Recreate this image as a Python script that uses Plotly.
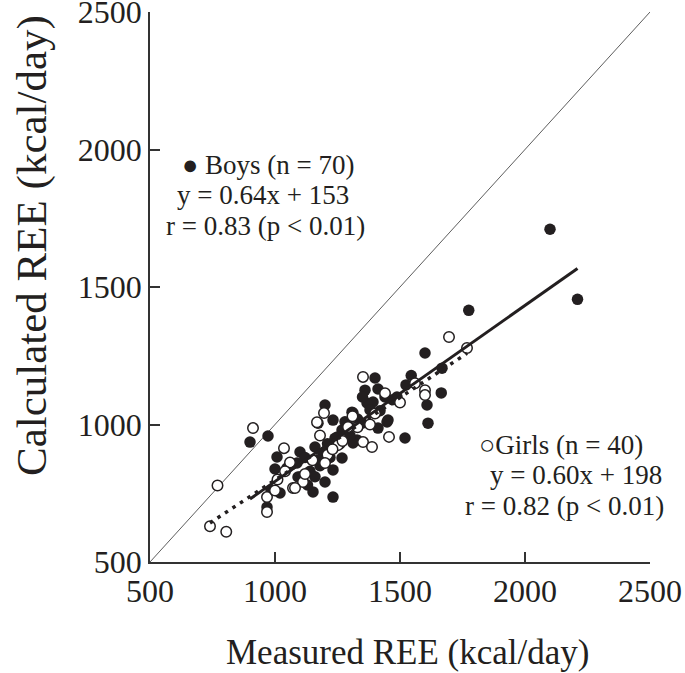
import plotly.graph_objects as go

# ---- data ----
boys_x = [2100, 2210, 1775, 1600, 1545, 1668, 1665, 1608, 1612, 1520,
          1524, 1488, 1400, 1412, 1360, 1392, 1368, 1380, 1452, 1412,
          1448, 1308, 1348, 1328, 1312, 1312, 1200, 1172, 1232, 1268,
          1268, 1232, 1192, 1160, 1100, 1172, 1060, 1100, 1200, 1152,
          1232, 900, 972, 1008, 1000, 1048, 1088, 1092, 1020, 984,
          968, 1130, 1210, 1250, 1290, 1330, 1180, 1220, 1260, 1140,
          1200, 1300, 1420, 1470, 1350, 1240, 1160, 1280, 1120, 1440]
boys_y = [1710, 1455, 1415, 1260, 1178, 1205, 1115, 1071, 1005, 951,
          1144, 1100, 1169, 1129, 1125, 1082, 1078, 1053, 1016, 987,
          1009, 1045, 1005, 944, 933, 1042, 1071, 1005, 1016, 980,
          878, 835, 889, 918, 900, 871, 853, 809, 791, 755,
          736, 936, 958, 882, 838, 842, 860, 809, 751, 762,
          700, 780, 930, 955, 1000, 1020, 850, 880, 930, 830,
          900, 960, 1050, 1090, 1100, 950, 810, 1010, 880, 1100]

girls_x = [740, 805, 770, 912, 1036, 968, 968, 1072, 1112, 1080,
           1196, 1168, 1292, 1252, 1352, 1388, 1456, 1440, 1352, 1600,
           1600, 1696, 1768, 1060, 1040, 1150, 1210, 1330, 1000, 1270,
           1180, 1230, 1400, 1500, 1120, 1310, 1560, 1010, 1200, 1380]
girls_y = [630, 610, 778, 987, 914, 736, 682, 769, 791, 769,
           1042, 1008, 991, 925, 936, 918, 955, 1114, 1173, 1125,
           1107, 1318, 1278, 862, 830, 870, 890, 990, 760, 940,
           960, 910, 1040, 1080, 820, 1030, 1150, 800, 860, 1000]

boys_slope, boys_intercept = 0.64, 153
girls_slope, girls_intercept = 0.60, 198

axis_min, axis_max = 500, 2500
tick_vals = [500, 1000, 1500, 2000, 2500]
tick_text = ["500", "1000", "1500", "2000", "2500"]

x_title = "Measured REE (kcal/day)"
y_title = "Calculated REE (kcal/day)"
boys_lines = ["\u25cf Boys (n = 70)", "y = 0.64x + 153", "r = 0.83 (p < 0.01)"]
girls_lines = ["\u25cbGirls (n = 40)", "y = 0.60x + 198", "r = 0.82 (p < 0.01)"]

FONT = "Liberation Serif, Times New Roman, serif"
INK = "#231f20"

fig = go.Figure()

# identity line
fig.add_trace(go.Scatter(x=[axis_min, axis_max], y=[axis_min, axis_max], mode="lines",
                         line=dict(color="#333333", width=0.8), hoverinfo="skip"))

# boys points
fig.add_trace(go.Scatter(x=boys_x, y=boys_y, mode="markers",
                         marker=dict(size=11.5, color=INK, line=dict(width=0))))
# girls points
fig.add_trace(go.Scatter(x=girls_x, y=girls_y, mode="markers",
                         marker=dict(size=10.5, color="white", line=dict(width=1.5, color=INK))))

# regression lines
bx = [min(boys_x), max(boys_x)]
fig.add_trace(go.Scatter(x=bx, y=[boys_slope * v + boys_intercept for v in bx], mode="lines",
                         line=dict(color=INK, width=3)))
gx = [min(girls_x), max(girls_x)]
fig.add_trace(go.Scatter(x=gx, y=[girls_slope * v + girls_intercept for v in gx], mode="lines",
                         line=dict(color=INK, width=3.5, dash="3.5px,5.5px")))

axis_common = dict(range=[axis_min, axis_max], showgrid=False, zeroline=False,
                   showline=True, linecolor="#333333", linewidth=1.5,
                   ticks="inside", ticklen=10, tickwidth=1.5, tickcolor="#333333",
                   tickvals=tick_vals, ticktext=tick_text, automargin=False,
                   ticklabeloverflow="allow",
                   tickfont=dict(family=FONT, size=32, color=INK), mirror=False)
fig.update_xaxes(**axis_common)
fig.update_yaxes(**axis_common)

ann = []
for txt, x, y in zip(boys_lines, [972, 952, 960], [1944, 1834, 1722]):
    ann.append(dict(x=x, y=y, xref="x", yref="y", text=txt, showarrow=False,
                    xanchor="center", yanchor="middle",
                    font=dict(family=FONT, size=27, color=INK)))
for txt, x, y in zip(girls_lines, [2144, 2204, 2156], [925, 816, 704]):
    ann.append(dict(x=x, y=y, xref="x", yref="y", text=txt, showarrow=False,
                    xanchor="center", yanchor="middle",
                    font=dict(family=FONT, size=27, color=INK)))

# The page body margin is removed (post_script below), so figure pixels = window pixels.
W, H = 685, 673
L, T = 150, 12
PW, PH = 500, 550
R, B = W - L - PW, H - T - PH

# axis titles (positions given in window pixels, converted to paper coords)
titles = [
    dict(text=x_title, px=407, py=652, angle=0, size=35),
    dict(text=y_title, px=32, py=246, angle=-90, size=43),
]
for t in titles:
    ann.append(dict(x=(t["px"] - L) / PW, y=(T + PH - t["py"]) / PH,
                    xref="paper", yref="paper", text=t["text"], showarrow=False,
                    textangle=t["angle"], xanchor="center", yanchor="middle",
                    font=dict(family=FONT, size=t["size"], color=INK)))

fig.update_layout(width=W, height=H, margin=dict(l=L, r=R, t=T, b=B, autoexpand=False),
                  plot_bgcolor="white", paper_bgcolor="white", showlegend=False,
                  annotations=ann, font=dict(family=FONT, color=INK))

fig.write_html("out.html", config={"displayModeBar": False},
               post_script="document.body.style.margin='0';document.body.style.overflow='hidden';")
